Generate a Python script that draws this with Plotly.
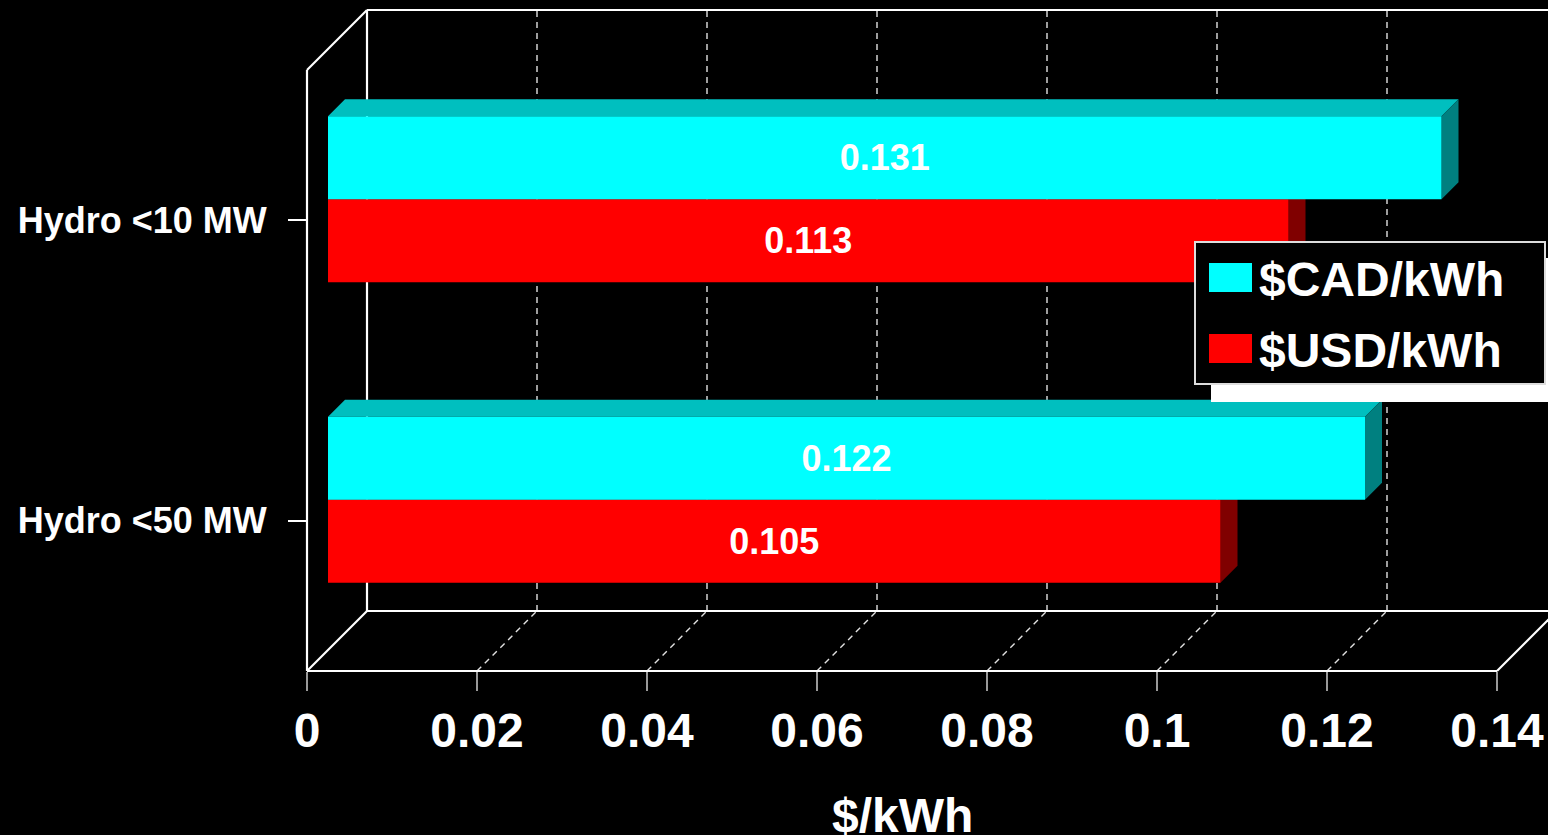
import plotly.graph_objects as go

# ---------------- data ----------------
categories = ["Hydro <50 MW", "Hydro <10 MW"]
series_names = ["$CAD/kWh", "$USD/kWh"]
cad_values = [0.122, 0.131]
usd_values = [0.105, 0.113]
x_tick_values = [0, 0.02, 0.04, 0.06, 0.08, 0.1, 0.12, 0.14]
x_tick_labels = ["0", "0.02", "0.04", "0.06", "0.08", "0.1", "0.12", "0.14"]
x_title = "$/kWh"

# ---------------- geometry / style ----------------
W, H = 1548, 835
L, T = 297, 0
PW, PH = W - L, 681
B = H - T - PH
X0PX, Y0PX = 307, 671          # pixel of x=0 / bottom of category band on the front plane
XMAX = 0.14
PXX = 1190 / XMAX               # px per x unit
PXY = 300.5                     # px per category
WALL_D = 60                     # depth of walls in px
BAR_OFF = 21                    # bar front face depth offset in px
BAR_D = 17                      # bar thickness (depth) in px
BARGAP = 1 - 166 / PXY
BARW = (1 - BARGAP) / 2

FONT = "Arial, Liberation Sans, sans-serif"
CYAN, CYAN_TOP, CYAN_SIDE = "#00FFFF", "#00BFBF", "#008080"
RED, RED_TOP, RED_SIDE = "#FF0000", "#BF0000", "#800000"

x_lo = (L - X0PX) / PXX
x_hi = x_lo + PW / PXX
y_lo = -0.5 - (T + PH - Y0PX) / PXY
y_hi = y_lo + PH / PXY
ddx, ddy = WALL_D / PXX, WALL_D / PXY
bx, by = BAR_OFF / PXX, BAR_OFF / PXY
bdx, bdy = BAR_D / PXX, BAR_D / PXY

fig = go.Figure()

# ---------------- frame (walls/floor) on front-plane axes ----------------
fy0, fy1 = -0.5, len(categories) - 0.5
segs = [
    ((0, fy0), (0, fy1)),
    ((0, fy1), (ddx, fy1 + ddy)),
    ((ddx, fy0 + ddy), (ddx, fy1 + ddy)),
    ((ddx, fy1 + ddy), (XMAX + ddx + 0.02, fy1 + ddy)),
    ((ddx, fy0 + ddy), (XMAX + ddx, fy0 + ddy)),
    ((XMAX + ddx, fy0 + ddy), (XMAX + ddx, fy1 + ddy)),
    ((0, fy0), (ddx, fy0 + ddy)),
    ((0, fy0), (XMAX, fy0)),
    ((XMAX, fy0), (XMAX + ddx, fy0 + ddy)),
]
fx, fyv = [], []
for (a, b) in segs:
    fx += [a[0], b[0], None]
    fyv += [a[1], b[1], None]

gx, gy = [], []
for t in x_tick_values[1:-1]:
    gx += [t + ddx, t + ddx, None, t, t + ddx, None]
    gy += [fy0 + ddy, fy1 + ddy, None, fy0, fy0 + ddy, None]

fig.add_trace(go.Scatter(x=gx, y=gy, mode="lines", line=dict(color="#e0e0e0", width=1.4, dash="6px,5px"),
                         hoverinfo="skip", showlegend=False, xaxis="x", yaxis="y"))
fig.add_trace(go.Scatter(x=fx, y=fyv, mode="lines", line=dict(color="white", width=2.2),
                         hoverinfo="skip", showlegend=False, xaxis="x", yaxis="y"))

# ---------------- 3D faces of bars (bar-plane axes, drawn beneath the bar fronts) ----------------
def faces(values, centre_shift):
    tx, ty, sx, sy = [], [], [], []
    for i, v in enumerate(values):
        yc = i + centre_shift
        ytop, ybot = yc + BARW / 2, yc - BARW / 2
        tx += [0, bdx, v + bdx, v, 0, None]
        ty += [ytop, ytop + bdy, ytop + bdy, ytop, ytop, None]
        sx += [v, v + bdx, v + bdx, v, v, None]
        sy += [ytop, ytop + bdy, ybot + bdy, ybot, ytop, None]
    return tx, ty, sx, sy

for vals, shift, ctop, cside in [(usd_values, -BARW / 2, RED_TOP, RED_SIDE),
                                 (cad_values, BARW / 2, CYAN_TOP, CYAN_SIDE)]:
    tx, ty, sx, sy = faces(vals, shift)
    fig.add_trace(go.Scatter(x=tx, y=ty, mode="lines", fill="toself", fillcolor=ctop,
                             line=dict(width=0, color=ctop), hoverinfo="skip", showlegend=False,
                             xaxis="x2", yaxis="y2"))
    fig.add_trace(go.Scatter(x=sx, y=sy, mode="lines", fill="toself", fillcolor=cside,
                             line=dict(width=0, color=cside), hoverinfo="skip", showlegend=False,
                             xaxis="x2", yaxis="y2"))

# ---------------- bar front faces ----------------
ycat = list(range(len(categories)))
label_font = dict(family=FONT, size=36, color="white", weight="bold")
fig.add_trace(go.Bar(name=series_names[1], x=usd_values, y=ycat, orientation="h",
                     marker=dict(color=RED, line=dict(width=0)),
                     texttemplate="%{x:.3f}", textposition="inside", insidetextanchor="middle",
                     textangle=0, constraintext="none", textfont=label_font,
                     showlegend=False, xaxis="x3", yaxis="y3"))
fig.add_trace(go.Bar(name=series_names[0], x=cad_values, y=ycat, orientation="h",
                     marker=dict(color=CYAN, line=dict(width=0)),
                     texttemplate="%{x:.3f}", textposition="inside", insidetextanchor="middle",
                     textangle=0, constraintext="none", textfont=label_font,
                     showlegend=False, xaxis="x3", yaxis="y3"))

# ---------------- layout ----------------
def px2paper(px, py):
    return (px - L) / PW, 1 - (py - T) / PH

hidden = dict(visible=False, showgrid=False, zeroline=False, fixedrange=True)
shapes = []
annotations = []

# legend (shadow, box, swatches)
for (x0, y0, x1, y1, fc, lc) in [(1212, 259, 1562, 401, "white", "white"),
                                 (1195, 242, 1545, 384, "black", "#dddddd")]:
    a, b = px2paper(x0, y0)
    c, d = px2paper(x1, y1)
    shapes.append(dict(type="rect", xref="paper", yref="paper", x0=a, y0=d, x1=c, y1=b,
                       fillcolor=fc, line=dict(color=lc, width=2), layer="above"))
for name, col, sy in [(series_names[0], CYAN, 263), (series_names[1], RED, 334)]:
    a, b = px2paper(1209, sy)
    c, d = px2paper(1252, sy + 29)
    shapes.append(dict(type="rect", xref="paper", yref="paper", x0=a, y0=d, x1=c, y1=b,
                       fillcolor=col, line=dict(width=0), layer="above"))
    tx, ty = px2paper(1257, sy + 16)
    annotations.append(dict(text=name, xref="paper", yref="paper", x=tx, y=ty, xanchor="left",
                            yanchor="middle", showarrow=False,
                            font=dict(family=FONT, size=48, color="white", weight="bold")))

# x axis title
_, tty = px2paper(0, 815)
annotations.append(dict(text=x_title, xref="x", yref="paper", x=XMAX / 2, y=tty, xanchor="center",
                        yanchor="middle", showarrow=False,
                        font=dict(family=FONT, size=48, color="white", weight="bold")))

fig.update_layout(
    width=W, height=H,
    margin=dict(l=L, r=0, t=T, b=B, pad=0),
    paper_bgcolor="black", plot_bgcolor="black",
    barmode="group", bargap=BARGAP, bargroupgap=0,
    showlegend=False,
    shapes=shapes, annotations=annotations,
    xaxis=dict(range=[x_lo, x_hi], anchor="free", position=(PH - (Y0PX - T)) / PH,
               tickvals=x_tick_values, ticktext=x_tick_labels, ticks="outside", ticklen=19,
               tickwidth=2, tickcolor="#999999", showgrid=False, zeroline=False, showline=False,
               tickfont=dict(family=FONT, size=48, color="white", weight="bold"),
               ticklabelstandoff=-2, fixedrange=True),
    yaxis=dict(range=[y_lo, y_hi], anchor="free", position=(X0PX - L) / PW,
               tickvals=ycat, ticktext=categories, ticks="outside", ticklen=19, tickwidth=1.5,
               tickcolor="white", showgrid=False, zeroline=False, showline=False,
               tickfont=dict(family=FONT, size=36, color="white", weight="bold"),
               ticklabelstandoff=14, fixedrange=True),
    xaxis2=dict(range=[x_lo - bx, x_hi - bx], overlaying="x", anchor="y2", **hidden),
    yaxis2=dict(range=[y_lo - by, y_hi - by], overlaying="y", anchor="x2", **hidden),
    xaxis3=dict(range=[x_lo - bx, x_hi - bx], overlaying="x", anchor="y3", **hidden),
    yaxis3=dict(range=[y_lo - by, y_hi - by], overlaying="y", anchor="x3", **hidden),
)

fig.write_html("out.html", config={"displayModeBar": False},
               post_script="document.body.style.margin='0';document.body.style.background='black';")
